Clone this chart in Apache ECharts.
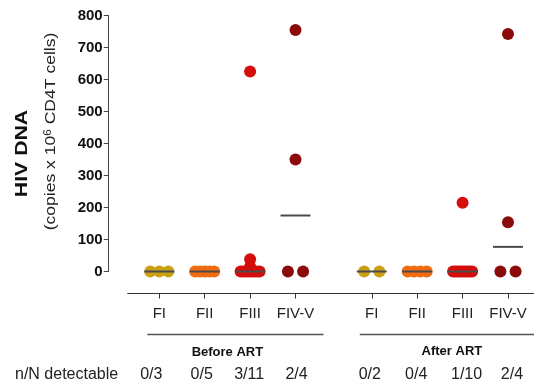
<!DOCTYPE html>
<html><head><meta charset="utf-8">
<script src="https://cdn.jsdelivr.net/npm/echarts@6/dist/echarts.min.js"></script>
<style>html,body{margin:0;padding:0;background:#fff}#c{width:534px;height:385px}</style>
</head><body><div id="c"></div>
<script>
// ---- data ----
const categories = ['FI', 'FII', 'FIII', 'FIV-V'];
const groupNames = ['Before ART', 'After ART'];
const beforeFI = [0, 0, 0];
const beforeFII = [0, 0, 0, 0, 0];
const beforeFIII = [625, 38, 15, 0, 0, 0, 0, 0, 0, 0, 0];
const beforeFIV = [755, 350, 0, 0];
const afterFI = [0, 0];
const afterFII = [0, 0, 0, 0];
const afterFIII = [215, 0, 0, 0, 0, 0, 0, 0, 0, 0];
const afterFIV = [742, 154, 0, 0];
const detectableBefore = ['0/3', '0/5', '3/11', '2/4'];
const detectableAfter = ['0/2', '0/4', '1/10', '2/4'];
const yTicks = [0, 100, 200, 300, 400, 500, 600, 700, 800];
const rowLabel = 'n/N detectable';

// ---- layout ----
const FONT = 'Liberation Sans, Arial, Helvetica, sans-serif';
const colors = ['#c9a012', '#f26b0f', '#d40d0d', '#8b0b0b'];
const groupStart = [1, 5.68];
const unitPx = 45.4;
const allData = [[beforeFI, beforeFII, beforeFIII, beforeFIV], [afterFI, afterFII, afterFIII, afterFIV]];
const tickPos = [];
groupStart.forEach(s => categories.forEach((c, i) => tickPos.push(s + i)));

function jitter(vals) {
  const zeros = vals.filter(v => v === 0).length;
  const half = zeros <= 1 ? 0 : (zeros === 2 ? 7.6 : Math.min(9.5, (zeros - 1) * 4.5));
  let k = 0;
  return vals.map(v => {
    if (v !== 0) return 0;
    const off = zeros <= 1 ? 0 : -half + 2 * half * k / (zeros - 1);
    k++;
    return off / unitPx;
  });
}
function median(vals) {
  const s = [...vals].sort((a, b) => a - b), n = s.length;
  return n % 2 ? s[(n - 1) / 2] : (s[n / 2 - 1] + s[n / 2]) / 2;
}

const series = [];
allData.forEach((grp, g) => grp.forEach((vals, i) => {
  const x0 = groupStart[g] + i;
  const offs = jitter(vals);
  series.push({
    type: 'scatter', clip: false, z: 2, symbolSize: 12,
    itemStyle: { color: colors[i], opacity: 1 },
    data: vals.map((v, j) => [x0 + offs[j], v])
  });
  const m = median(vals);
  series.push({
    type: 'line', clip: false, z: 3, symbol: 'none', silent: true,
    lineStyle: { color: '#4a4a4a', width: 2 },
    data: [[x0 - 0.33, m], [x0 + 0.33, m]]
  });
}));

const chart = echarts.init(document.getElementById('c'));
chart.setOption({
  animation: false,
  backgroundColor: '#fff',
  grid: { left: 127.7, right: 0, top: 15.5, bottom: 113.5 },
  xAxis: {
    type: 'value', min: 0.304, max: 9.253, offset: 22,
    axisLine: { show: true, onZero: false, lineStyle: { color: '#333', width: 1 } },
    axisTick: { show: true, length: 5, lineStyle: { color: '#333' }, customValues: tickPos },
    axisLabel: {
      customValues: tickPos, fontSize: 15, color: '#222', margin: 13, fontFamily: FONT,
      formatter: v => {
        const idx = tickPos.findIndex(t => Math.abs(t - v) < 1e-6);
        return idx < 0 ? '' : categories[idx % categories.length];
      }
    },
    splitLine: { show: false }
  },
  yAxis: {
    type: 'value', min: yTicks[0], max: yTicks[yTicks.length - 1], interval: yTicks[1] - yTicks[0], offset: 19,
    axisLine: { show: true, onZero: false, lineStyle: { color: '#444', width: 1 } },
    axisTick: { show: true, length: 5, lineStyle: { color: '#444' } },
    axisLabel: { fontSize: 15, fontWeight: 'bold', color: '#111', margin: 6, fontFamily: FONT },
    splitLine: { show: false }
  },
  series: series
});

const px = v => chart.convertToPixel({ xAxisIndex: 0 }, v);
const t = tickPos.map(px);
const bracketY = 334.5;
const nudges = [-8, -3, -1, 1, -2, -1, 4, 4];
const detect = detectableBefore.concat(detectableAfter);
const graphics = [
  { type: 'line', shape: { x1: t[0] - 12, y1: bracketY, x2: t[3] + 28, y2: bracketY }, style: { stroke: '#555', lineWidth: 1.5 } },
  { type: 'line', shape: { x1: t[4] - 12, y1: bracketY, x2: 534, y2: bracketY }, style: { stroke: '#555', lineWidth: 1.5 } },
  { type: 'text', x: (t[1] + t[2]) / 2, y: 352, style: { text: groupNames[0], font: 'bold 13px ' + FONT, fill: '#111', textAlign: 'center', textVerticalAlign: 'middle', align: 'center', verticalAlign: 'middle' } },
  { type: 'text', x: (t[5] + t[6]) / 2 + 12, y: 351, style: { text: groupNames[1], font: 'bold 13px ' + FONT, fill: '#111', textAlign: 'center', textVerticalAlign: 'middle', align: 'center', verticalAlign: 'middle' } },
  { type: 'text', x: 15, y: 374.5, style: { text: rowLabel, font: '16px ' + FONT, fill: '#222', textAlign: 'left', textVerticalAlign: 'middle', align: 'left', verticalAlign: 'middle' } },
  { type: 'text', x: 22.5, y: 153.5, rotation: Math.PI / 2, scaleX: 1.25,
    style: { text: 'HIV DNA', font: 'bold 17px ' + FONT, fill: '#111', textAlign: 'center', textVerticalAlign: 'middle', align: 'center', verticalAlign: 'middle' } },
  { type: 'text', x: 51, y: 131.5, rotation: Math.PI / 2, scaleX: 1.17,
    style: {
      text: '(copies x 10{sup|6} CD4T cells)', fontSize: 15, fontFamily: FONT, fill: '#222',
      textAlign: 'center', textVerticalAlign: 'middle', align: 'center', verticalAlign: 'middle',
      rich: { sup: { fontSize: 10, verticalAlign: 'top', fill: '#222', fontFamily: FONT } }
    } }
];
detect.forEach((s, i) => graphics.push({
  type: 'text', x: t[i] + nudges[i], y: 374.5,
  style: { text: s, font: '16px ' + FONT, fill: '#222', textAlign: 'center', textVerticalAlign: 'middle', align: 'center', verticalAlign: 'middle' }
}));
chart.setOption({ graphic: { elements: graphics } });
</script>
</body></html>
